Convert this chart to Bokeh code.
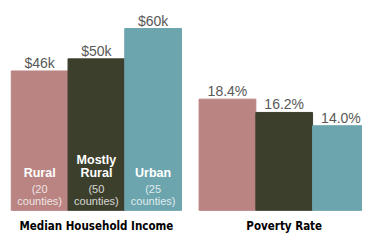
from bokeh.plotting import figure
from bokeh.models import Range1d, ColumnDataSource
from bokeh.core.properties import value
from bokeh.embed import file_html
from bokeh.resources import INLINE

# ---- data ----
groups = ["Median Household Income", "Poverty Rate"]
categories = ["Rural", "Mostly Rural", "Urban"]
line1 = ["", "Mostly", ""]
line2 = ["Rural", "Rural", "Urban"]
counties = [20, 50, 25]
income_k = [46, 50, 60]
income_labels = ["$46k", "$50k", "$60k"]
poverty = [18.4, 16.2, 14.0]
poverty_labels = ["18.4%", "16.2%", "14.0%"]
colors = ["#b98482", "#3d3f2d", "#6ca5ae"]

# ---- layout ----
W, H = 362, 235
GAP = 0.31          # gap between groups, in bar widths
x_inc = [i + 0.5 for i in range(len(categories))]
x_pov = [len(categories) + GAP + i + 0.5 for i in range(len(categories))]

p = figure(width=W, height=H, output_backend="svg", toolbar_location=None,
           x_range=Range1d(-0.19, 6.19),
           y_range=Range1d(-8.3, 69.26),
           min_border=0, min_border_left=0, min_border_right=0,
           min_border_top=0, min_border_bottom=0)
p.extra_y_ranges = {"pov": Range1d(-4.16, 34.72)}
p.xaxis.visible = False
p.yaxis.visible = False
p.grid.visible = False
p.outline_line_color = None
p.background_fill_color = "white"
p.border_fill_color = "white"

inc = ColumnDataSource(dict(x=x_inc, top=income_k, label=income_labels, color=colors,
                            l1=line1, l2=line2,
                            c1=["(%d" % c for c in counties],
                            c2=["counties)"] * 3))
pov = ColumnDataSource(dict(x=x_pov, top=poverty, label=poverty_labels, color=colors))

p.vbar(x="x", top="top", bottom=0, width=1, color="color", source=inc)
p.vbar(x="x", top="top", bottom=0, width=1, color="color", source=pov, y_range_name="pov")

lbl_font = value("Liberation Sans")
p.text(x="x", y="top", text="label", source=inc, text_align="center",
       text_baseline="alphabetic", y_offset=-8, text_font=lbl_font,
       text_font_size="14px", text_color="#585858")
p.text(x="x", y="top", text="label", source=pov, text_align="center",
       text_baseline="alphabetic", y_offset=-8, text_font=lbl_font,
       text_font_size="14px", text_color="#585858", y_range_name="pov")

# inner labels
p.text(x="x", y=0, text="l1", source=inc, text_align="center", text_baseline="middle",
       y_offset=-50, text_font=lbl_font, text_font_style="bold",
       text_font_size="12.5px", text_color="white")
p.text(x="x", y=0, text="l2", source=inc, text_align="center", text_baseline="middle",
       y_offset=-37.5, text_font=lbl_font, text_font_style="bold",
       text_font_size="12.5px", text_color="white")
p.text(x="x", y=0, text="c1", source=inc, text_align="center", text_baseline="middle",
       y_offset=-21, text_font=lbl_font, text_font_size="11px",
       text_color="white", text_alpha=0.8)
p.text(x="x", y=0, text="c2", source=inc, text_align="center", text_baseline="middle",
       y_offset=-9.5, text_font=lbl_font, text_font_size="11px",
       text_color="white", text_alpha=0.8)

# group titles
p.text(x=[x_inc[1], x_pov[1]], y=[0, 0], text=groups, text_align="center",
       text_baseline="middle", y_offset=15.5, text_font=value("DejaVu Sans Condensed"),
       text_font_style="bold", text_font_size="11.5px", text_color="black")

open("out.html", "w").write(file_html(p, INLINE))
